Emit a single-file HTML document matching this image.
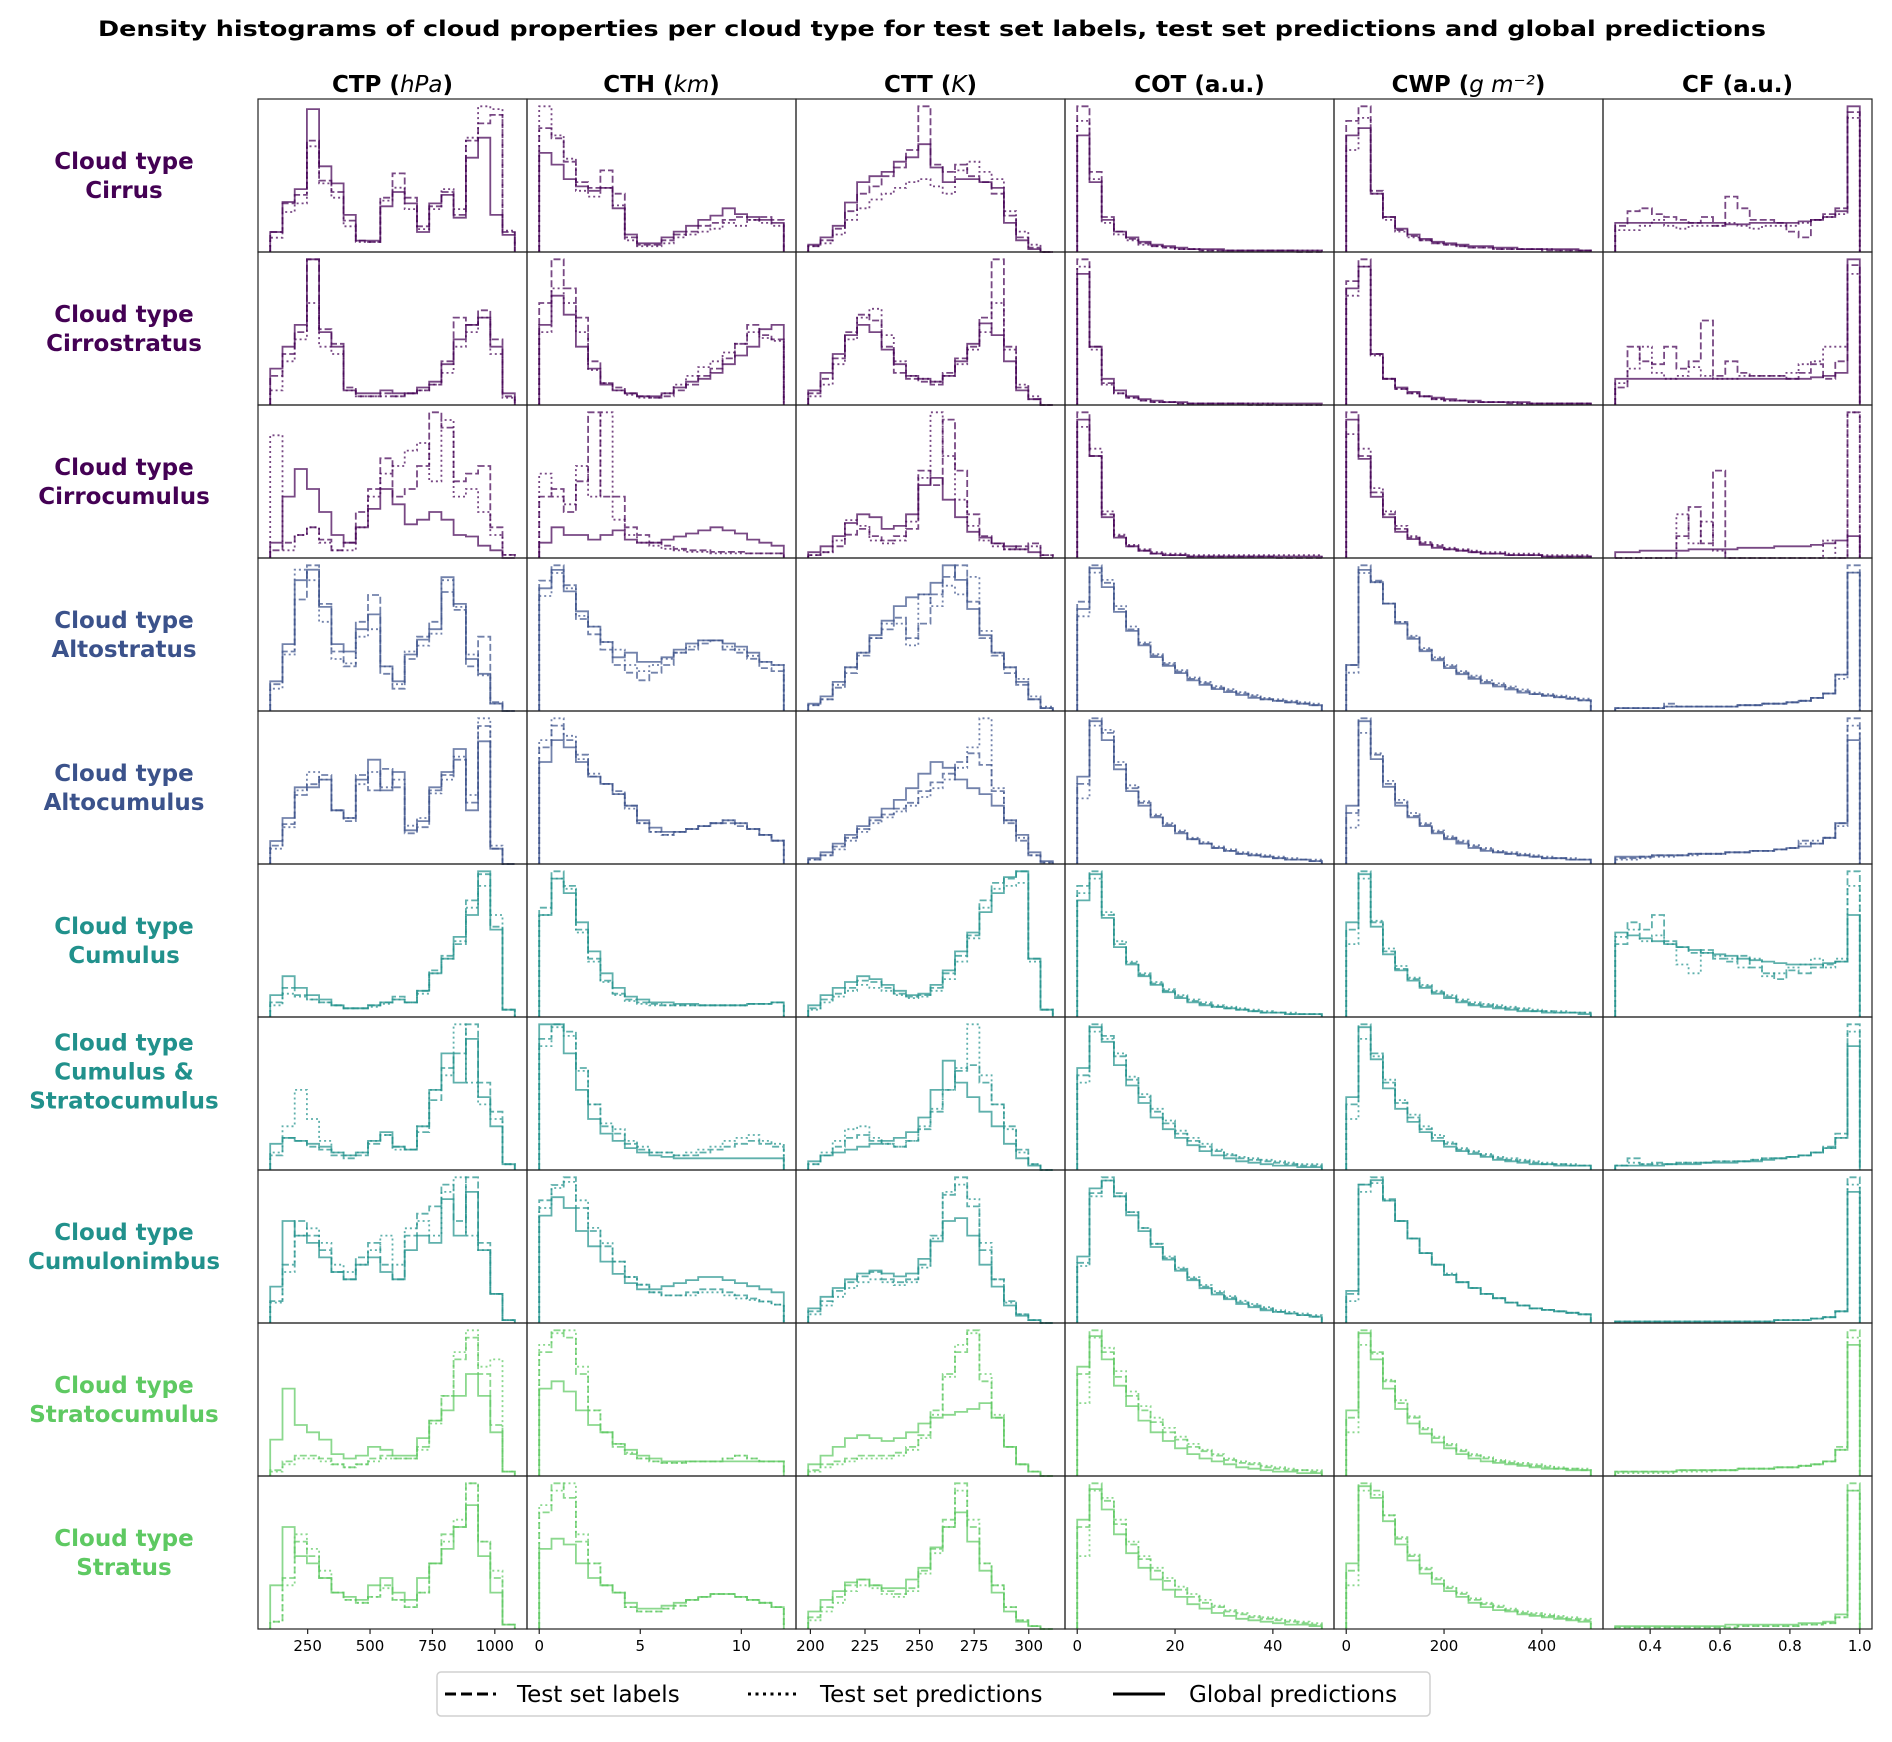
<!DOCTYPE html>
<html><head><meta charset="utf-8"><style>
html,body{margin:0;padding:0;background:#fff}
svg text{font-family:"DejaVu Sans","Liberation Sans",sans-serif}
</style></head><body>
<svg id="fig" width="1892" height="1737" viewBox="0 0 1892 1737" xmlns="http://www.w3.org/2000/svg">
<text x="932" y="36" text-anchor="middle" font-size="21" font-weight="bold" textLength="1668" lengthAdjust="spacingAndGlyphs">Density histograms of cloud properties per cloud type for test set labels, test set predictions and global predictions</text>
<g id="panels"></g>
<g>
<rect x="437" y="1672" width="993" height="44" rx="4" fill="#fff" stroke="#d0d0d0" stroke-width="1.5"/>
<line x1="445" y1="1694" x2="496" y2="1694" stroke="#000" stroke-width="3" stroke-dasharray="11,5"/>
<text x="517" y="1702" font-size="23">Test set labels</text>
<line x1="748" y1="1694" x2="799" y2="1694" stroke="#000" stroke-width="3" stroke-dasharray="3,4.5"/>
<text x="820" y="1702" font-size="23">Test set predictions</text>
<line x1="1113" y1="1694" x2="1165" y2="1694" stroke="#000" stroke-width="3"/>
<text x="1189" y="1702" font-size="23">Global predictions</text>
</g>
</svg>
<script>
const columns=["CTP","CTH","CTT","COT","CWP","CF"];
const colUnits=["hPa","km","K","a.u.","g m⁻²","a.u."];
const rowNames=[["Cloud type","Cirrus"],["Cloud type","Cirrostratus"],["Cloud type","Cirrocumulus"],["Cloud type","Altostratus"],["Cloud type","Altocumulus"],["Cloud type","Cumulus"],["Cloud type","Cumulus &","Stratocumulus"],["Cloud type","Cumulonimbus"],["Cloud type","Stratocumulus"],["Cloud type","Stratus"]];
const dataRange=[[100,1080],[0,12.1],[199,311],[0,50],[0,500],[0.3,1.0]];
const xTicks=[[250,500,750,1000],[0,5,10],[200,225,250,275,300],[0,20,40],[0,200,400],[0.4,0.6,0.8,1.0]];
const xTickLabels=[["250","500","750","1000"],["0","5","10"],["200","225","250","275","300"],["0","20","40"],["0","200","400"],["0.4","0.6","0.8","1.0"]];

const labels_ctp=[[14,34,40,78,50,42,22,8,7,38,55,38,18,32,42,26,78,90,96,14],[20,35,50,100,52,42,12,6,6,8,6,8,10,14,30,60,55,65,45,6],[5,10,15,20,12,5,10,30,45,65,40,45,60,95,85,50,55,60,20,2],[18,40,75,98,72,40,30,60,78,25,15,35,50,60,80,68,30,50,6,0],[12,26,45,52,58,35,28,58,48,62,50,20,24,48,58,68,40,90,10,0],[10,20,15,12,10,8,6,6,8,10,14,10,18,32,42,50,80,98,62,5],[10,22,20,16,14,10,8,10,18,24,16,14,26,48,70,80,100,60,40,4],[15,40,70,60,50,35,30,45,55,40,30,60,75,80,95,70,100,55,20,2],[4,10,14,14,12,8,6,8,12,14,12,12,20,38,55,80,95,70,35,3],[5,35,60,50,35,25,20,18,22,30,20,15,25,45,65,70,100,60,35,3]];
const testpred_ctp=[[10,28,34,74,48,38,18,7,7,36,45,30,16,30,44,30,80,102,100,15],[10,30,45,70,40,35,10,6,6,6,6,8,10,14,22,40,50,60,35,5],[80,5,15,20,10,5,5,20,40,55,60,70,75,50,90,40,45,30,15,2],[15,38,95,88,60,35,32,50,55,30,18,40,44,52,88,70,38,24,5,0],[10,24,48,60,55,35,30,52,60,50,55,25,30,46,55,70,45,95,12,0],[8,16,14,12,10,8,6,6,7,9,12,10,16,30,40,52,75,90,70,5],[12,30,55,35,20,12,10,12,20,24,14,14,30,55,65,100,60,45,35,4],[14,35,60,65,55,40,35,40,50,60,40,65,70,60,90,100,60,50,20,2],[3,8,12,12,10,8,6,8,10,12,12,12,18,36,55,85,100,75,80,3],[5,30,65,55,40,25,20,18,22,28,20,15,25,45,60,75,100,60,40,3]];
const global_ctp=[[14,35,44,100,60,48,26,8,8,32,42,34,14,34,40,24,66,80,26,12],[25,40,55,100,50,40,10,8,8,10,8,8,12,16,28,45,55,60,40,8],[10,40,58,45,30,15,10,20,32,45,35,22,25,30,25,15,14,8,5,0],[20,45,88,95,70,45,40,55,65,30,20,38,48,55,90,72,35,25,5,0],[15,30,50,50,55,35,30,55,68,48,60,22,28,50,60,75,35,80,10,0],[15,28,20,15,12,8,6,6,8,10,12,10,18,30,40,55,70,100,60,5],[18,22,20,18,16,12,10,12,20,26,16,14,30,55,80,60,90,50,30,4],[25,70,60,55,45,35,30,40,45,35,30,50,60,55,85,60,90,50,20,2],[25,60,35,30,25,15,12,14,20,18,14,14,26,38,45,55,70,55,30,3],[30,70,50,45,35,25,22,20,30,35,25,20,35,45,55,70,85,50,25,3]];

const labels_cth=[[85,78,62,48,44,56,40,10,5,5,8,12,14,18,20,22,24,22,24,22],[70,100,80,60,30,15,12,8,6,5,6,10,14,20,25,32,42,55,48,45],[40,45,30,50,95,40,40,20,15,10,8,6,5,5,4,4,4,3,3,3],[85,95,82,60,50,40,30,25,20,25,30,38,40,44,46,40,38,34,28,26],[80,95,85,75,60,55,50,40,28,22,20,22,24,26,28,28,26,24,20,16],[75,100,90,60,40,25,16,12,10,9,8,8,8,8,8,8,8,9,9,10],[90,100,95,70,45,30,25,18,14,12,12,10,10,12,14,16,18,20,18,16],[80,90,95,75,60,50,40,30,25,20,18,18,20,22,22,20,18,16,14,12],[85,100,95,70,45,30,20,15,12,10,9,9,10,10,10,12,14,12,10,10],[80,100,90,60,45,30,25,15,12,12,14,16,20,22,24,24,22,20,18,15]];
const testpred_cth=[[100,80,64,42,38,44,32,8,4,4,6,10,12,14,16,20,18,22,20,18],[50,80,70,50,24,15,10,7,5,5,8,14,20,26,30,36,42,50,46,44],[55,40,35,60,40,95,25,15,10,8,6,5,4,4,3,3,3,3,3,3],[75,90,80,62,55,45,40,30,26,30,34,38,42,46,46,42,40,36,32,30],[85,100,88,72,62,55,48,38,28,22,20,22,24,26,28,30,28,24,20,16],[70,95,88,58,38,24,15,11,9,8,8,8,8,8,8,8,8,9,9,10],[85,98,92,68,45,32,28,20,16,12,12,10,12,14,16,20,22,24,20,18],[75,88,92,80,62,52,40,30,25,20,18,18,18,20,20,18,16,15,14,12],[90,98,100,75,45,30,22,16,12,10,9,9,10,10,10,12,14,12,10,10],[85,95,100,65,45,30,25,15,12,12,14,16,20,22,24,24,22,20,18,15]];
const global_cth=[[68,60,50,45,42,44,30,12,6,6,10,14,18,22,25,30,26,24,22,20],[55,75,62,40,25,14,10,8,6,6,8,12,16,18,22,28,34,40,52,55],[10,20,15,15,12,15,18,12,10,10,12,14,16,18,20,18,16,12,10,8],[80,92,78,65,55,45,35,38,32,32,35,40,44,46,46,44,42,38,32,30],[70,85,80,70,60,55,48,40,30,25,22,22,24,26,28,30,28,24,20,16],[70,95,85,65,45,30,20,14,12,10,10,9,9,8,8,8,8,9,9,10],[100,100,80,55,35,25,20,15,12,10,9,8,8,8,8,8,8,8,8,8],[70,82,75,60,50,40,32,26,22,22,24,26,28,30,30,28,26,24,22,20],[60,65,58,45,35,30,22,18,14,12,10,10,10,10,10,10,10,10,10,10],[55,62,58,45,35,30,25,18,14,14,16,18,20,22,24,24,22,20,18,15]];

const labels_ctt=[[4,8,16,28,40,45,52,58,70,100,60,55,60,52,48,40,25,10,3,0],[8,18,32,50,62,58,40,22,18,16,14,22,32,40,60,100,40,12,4,0],[2,4,8,16,20,15,12,15,20,60,50,95,60,30,15,10,6,8,10,2],[4,8,16,26,38,50,56,64,50,60,80,92,100,75,50,38,26,18,8,2],[3,6,12,18,24,30,34,38,42,50,56,62,70,76,68,50,28,16,6,1],[6,12,16,20,25,24,20,16,14,15,20,30,42,56,80,92,95,100,40,5],[4,10,16,22,24,20,18,16,20,28,40,55,68,72,60,45,30,14,4,0],[8,15,22,28,32,35,30,28,30,40,60,88,100,80,50,30,15,6,2,0],[4,8,10,12,14,14,14,16,20,28,45,70,85,100,65,40,20,8,3,0],[8,15,22,30,34,30,26,24,28,40,55,75,100,70,45,30,15,6,2,0]];
const testpred_ctt=[[4,6,12,22,30,36,40,44,48,50,45,40,56,62,55,50,28,14,5,0],[6,14,28,45,60,66,48,30,20,18,16,20,28,38,50,70,38,14,6,0],[2,4,12,26,22,12,10,12,25,55,100,70,40,22,12,8,6,6,8,2],[4,8,18,30,40,50,60,60,45,80,72,86,80,92,55,40,30,22,10,3],[3,6,10,16,22,28,32,36,40,46,52,58,66,80,100,52,30,18,6,1],[5,10,14,18,22,20,18,15,13,14,18,26,38,54,75,88,90,92,38,5],[4,12,20,28,30,22,18,16,20,30,42,55,70,100,65,45,28,12,4,0],[6,12,18,24,28,30,28,26,28,38,58,90,95,85,55,30,14,6,2,0],[3,6,8,10,12,12,12,14,18,26,42,68,90,98,70,42,20,8,3,0],[6,12,18,26,30,28,24,22,26,38,52,70,95,75,45,30,15,6,2,0]];
const global_ctt=[[5,10,18,34,48,52,55,62,65,74,58,48,50,50,48,44,20,8,2,0],[10,22,35,48,55,50,38,28,20,18,16,20,30,42,56,48,30,10,4,0],[4,8,15,24,30,28,20,22,30,50,55,40,28,18,14,10,8,6,4,0],[5,10,20,30,40,52,62,72,78,80,88,100,90,70,52,40,30,20,8,2],[4,8,14,20,26,32,38,44,52,62,70,66,58,52,48,40,30,20,8,2],[8,15,20,24,28,26,22,18,15,16,22,32,45,58,72,85,96,100,40,5],[6,10,12,14,16,18,20,22,26,36,55,75,60,50,40,30,18,8,3,0],[10,18,24,30,34,36,34,32,34,44,56,70,72,60,40,25,12,5,2,0],[8,14,20,26,28,26,24,26,30,36,40,42,44,46,50,40,20,8,3,0],[12,20,26,32,34,30,28,28,34,42,56,70,80,60,40,25,12,5,2,0]];

const labels_cot=[[100,55,24,14,9,6,4,3,2,2,1,1,1,1,1,1,1,1,0,0],[100,40,15,8,5,3,2,2,1,1,1,1,1,1,0,0,0,0,0,0],[100,70,30,15,8,5,3,2,2,1,1,1,1,1,1,1,0,0,0,0],[75,100,88,70,56,46,38,32,27,22,19,16,14,12,10,8,7,6,5,4],[55,100,90,68,52,42,33,27,22,17,14,11,9,7,6,5,4,3,3,2],[90,100,70,50,37,29,23,18,14,11,9,7,6,5,4,3,3,2,2,2],[65,100,92,78,62,50,40,32,25,20,16,13,10,8,7,6,5,4,3,3],[38,82,92,82,70,60,50,41,34,28,23,19,16,13,11,9,7,6,5,4],[70,100,85,68,55,45,37,30,25,20,17,14,11,9,8,6,5,4,4,3],[70,100,88,72,58,48,40,33,27,22,18,15,12,10,8,7,6,5,4,3]];
const testpred_cot=[[90,50,20,12,8,5,4,3,2,2,1,1,1,1,1,1,1,1,1,1],[95,38,14,8,5,3,2,2,1,1,1,1,1,1,1,1,0,0,0,0],[90,75,32,16,9,6,4,3,3,2,2,2,2,2,2,2,2,2,2,2],[65,95,90,72,58,47,39,33,28,23,20,17,15,13,11,9,8,7,6,5],[45,95,92,70,54,43,34,28,23,18,15,12,10,8,7,6,5,4,3,3],[85,95,72,52,38,30,24,19,15,12,10,8,7,6,5,4,3,3,2,2],[60,95,90,80,64,52,42,34,27,22,18,14,11,9,8,7,6,5,4,4],[36,80,90,80,70,60,50,42,35,29,24,20,17,14,12,10,8,7,6,5],[50,95,88,72,58,48,40,33,27,22,18,15,12,10,9,7,6,5,4,4],[50,95,90,75,60,50,42,35,29,24,20,16,13,11,9,8,7,6,5,4]];
const global_cot=[[80,48,22,14,10,7,5,4,3,2,2,2,1,1,1,1,1,1,1,1],[90,40,18,10,6,4,3,2,2,1,1,1,1,1,1,1,1,1,1,1],[95,70,28,14,8,5,3,2,2,1,1,1,1,1,1,1,1,1,1,1],[70,98,85,68,55,45,37,31,26,21,18,15,13,11,9,8,7,6,5,4],[60,98,85,65,50,40,32,26,21,17,14,11,9,7,6,5,4,3,3,2],[80,98,68,48,36,28,22,17,13,10,8,7,6,5,4,3,3,2,2,2],[70,98,88,72,58,46,36,28,22,17,13,10,8,6,5,4,3,3,2,2],[42,85,90,80,68,58,48,40,33,27,22,18,15,12,10,8,7,6,5,4],[75,96,80,62,48,38,30,24,19,15,12,10,8,6,5,4,3,3,2,2],[75,96,82,65,52,42,34,27,22,17,14,11,9,7,6,5,4,3,3,2]];

const labels_cwp=[[90,100,42,24,15,11,8,6,5,4,3,3,2,2,2,2,1,1,1,1],[85,100,35,18,11,8,6,4,3,3,2,2,2,1,1,1,1,1,1,1],[100,70,45,30,20,14,10,8,6,5,4,3,3,2,2,2,1,1,1,1],[30,95,85,70,58,48,40,34,29,25,22,19,17,15,13,11,10,9,8,7],[35,100,75,55,42,33,27,22,18,15,12,10,8,7,6,5,4,4,3,3],[60,100,65,45,33,26,21,17,14,11,9,8,7,6,5,4,4,3,3,3],[45,100,80,60,46,36,28,22,18,14,12,10,8,7,6,5,4,4,3,3],[20,95,100,85,70,58,48,40,33,28,24,20,17,14,12,10,9,8,7,6],[40,100,85,65,50,40,32,26,21,17,14,12,10,9,8,7,6,5,5,4],[40,100,95,78,62,50,41,34,28,24,20,17,15,13,11,10,9,8,7,6]];
const testpred_cwp=[[70,92,40,22,14,10,8,6,5,4,3,3,2,2,2,2,2,1,1,1],[75,95,34,18,11,8,6,4,3,3,2,2,2,2,1,1,1,1,1,1],[85,75,48,32,22,15,11,9,7,6,5,4,4,3,3,3,2,2,2,2],[25,90,84,70,58,49,41,35,30,26,23,20,18,16,14,12,11,10,9,8],[25,90,76,57,44,35,28,23,19,16,13,11,9,8,7,6,5,4,4,3],[50,95,66,47,35,27,22,18,15,12,10,9,8,7,6,5,4,4,3,3],[35,90,78,62,48,38,30,24,19,15,13,11,9,8,7,6,5,4,4,3],[15,90,96,84,70,58,48,40,34,28,24,20,17,14,12,10,9,8,7,6],[30,90,84,66,52,41,33,27,22,18,15,13,11,10,9,8,7,6,5,5],[30,95,92,78,63,51,42,35,29,25,21,18,16,14,12,11,10,9,8,7]];
const global_cwp=[[80,85,40,24,16,12,9,7,6,5,4,4,3,3,2,2,2,2,2,1],[80,95,35,18,12,9,6,5,4,3,3,2,2,2,2,1,1,1,1,1],[95,68,42,28,18,13,9,7,6,5,4,3,3,2,2,2,1,1,1,1],[30,92,84,70,57,47,39,33,28,24,21,18,16,14,12,11,10,9,8,7],[40,98,72,53,40,32,26,21,17,14,11,9,8,7,6,5,4,4,3,3],[65,98,62,43,32,25,20,16,13,10,8,7,6,5,4,4,3,3,3,2],[50,98,76,56,42,33,26,20,16,13,11,9,7,6,5,4,4,3,3,3],[22,95,98,84,70,58,48,40,33,28,24,20,17,14,12,10,9,8,7,6],[45,98,80,60,46,36,29,23,19,15,12,10,9,8,7,6,5,5,4,4],[45,98,90,74,58,47,38,31,26,22,18,15,13,12,10,9,8,7,6,5]];

const labels_cf=[[18,28,30,26,24,22,20,24,18,38,30,22,22,20,14,10,22,26,30,96],[12,40,30,28,40,25,30,58,20,30,22,20,20,20,18,22,28,18,30,96],[0,0,0,0,0,15,35,10,60,0,0,0,0,0,0,0,0,0,0,100],[2,2,2,2,5,3,3,3,3,3,4,4,5,5,6,7,9,12,25,100],[4,4,5,6,6,6,7,7,7,8,8,9,9,10,11,16,14,18,28,100],[50,65,60,70,52,48,44,46,40,38,42,34,30,26,32,30,34,36,38,100],[3,8,4,5,4,5,5,5,6,6,6,7,8,8,9,10,12,16,25,100],[1,1,1,1,1,1,1,1,1,1,1,1,1,2,2,2,3,4,8,100],[3,3,3,3,3,4,4,4,4,4,5,5,5,6,6,7,8,10,20,100],[1,1,1,1,1,1,1,1,1,1,2,2,2,2,2,3,3,4,8,100]];
const testpred_cf=[[15,15,18,22,18,16,18,18,18,20,18,16,18,18,18,20,22,24,26,92],[15,25,40,22,18,20,26,20,18,18,20,20,20,20,22,28,30,40,40,90],[0,0,0,0,0,30,10,25,5,0,0,0,0,0,0,0,0,12,0,100],[2,2,2,2,3,3,3,3,3,3,4,4,5,5,6,7,9,12,22,95],[3,3,4,5,5,6,6,7,7,8,8,9,9,10,11,14,16,18,26,95],[55,60,52,56,50,36,30,44,42,40,34,40,28,30,34,36,40,34,40,90],[3,5,4,4,4,5,5,5,6,6,6,7,8,8,9,10,12,15,22,95],[1,1,1,1,1,1,1,1,1,1,1,1,1,2,2,2,3,4,8,95],[2,2,2,2,2,3,3,3,4,4,5,5,5,6,6,7,8,10,18,95],[1,1,1,1,1,1,1,1,1,1,2,2,2,2,2,3,3,4,8,95]];
const global_cf=[[20,20,20,20,20,20,20,20,20,19,19,20,20,20,20,21,22,24,28,100],[18,18,18,18,18,18,18,18,18,18,18,18,18,18,18,18,19,20,22,100],[4,4,5,5,5,5,6,6,6,6,7,7,7,8,8,8,9,10,12,15],[2,2,2,2,3,3,3,3,3,3,4,4,5,5,6,7,9,12,25,95],[5,5,5,6,6,6,7,7,7,8,8,9,9,10,11,12,14,18,28,85],[58,56,54,52,50,48,46,44,43,42,40,39,38,37,36,36,36,37,38,70],[3,3,3,3,4,4,4,5,5,5,6,6,7,8,9,10,12,15,22,85],[1,1,1,1,1,1,1,1,1,1,1,1,1,2,2,2,3,4,8,90],[3,3,3,3,3,4,4,4,4,4,5,5,5,6,6,7,8,10,18,90],[2,2,2,2,2,2,2,2,2,3,3,3,3,3,3,4,4,5,10,95]];

const labelsAll=[labels_ctp,labels_cth,labels_ctt,labels_cot,labels_cwp,labels_cf];
const predsAll=[testpred_ctp,testpred_cth,testpred_ctt,testpred_cot,testpred_cwp,testpred_cf];
const globalAll=[global_ctp,global_cth,global_ctt,global_cot,global_cwp,global_cf];

const NS="http://www.w3.org/2000/svg";
const PX0=258,PY0=99,PW=269,PH=153;
const rowColors=["#440154","#440154","#440154","#3b528b","#3b528b","#21918c","#21918c","#21918c","#5ec962","#5ec962"];
const root=document.getElementById("panels");
function mk(tag,attrs,parent){const e=document.createElementNS(NS,tag);for(const k in attrs)e.setAttribute(k,attrs[k]);(parent||root).appendChild(e);return e;}
function xScale(c,v){const d=dataRange[c];const m=(d[1]-d[0])*0.05;const lo=d[0]-m,hi=d[1]+m;return PX0+c*PW+(v-lo)/(hi-lo)*PW;}
function yScale(r,v,maxv){return PY0+(r+1)*PH-(v/(maxv*1.05))*PH;}

columns.forEach((name,c)=>{
  const t=mk("text",{x:PX0+c*PW+PW/2,y:92,"text-anchor":"middle","font-size":"23","font-weight":"bold"});
  
  
  const s1=document.createElementNS(NS,"tspan");s1.textContent=name+" (";t.appendChild(s1);
  const s2=document.createElementNS(NS,"tspan");s2.textContent=colUnits[c];
  if(c!==3&&c!==5){s2.setAttribute("font-style","italic");s2.setAttribute("font-weight","normal");}
  t.appendChild(s2);
  const s3=document.createElementNS(NS,"tspan");s3.textContent=")";t.appendChild(s3);
});

rowNames.forEach((lines,r)=>{
  const cy=PY0+r*PH+PH/2-(lines.length===3?22:0);
  const t=mk("text",{"text-anchor":"middle","font-size":"23","font-weight":"bold",fill:rowColors[r]});
  
  
  lines.forEach((ln,i)=>{
    const s=document.createElementNS(NS,"tspan");
    s.setAttribute("x",124);
    s.setAttribute("y",cy-(lines.length-1)*14.5+i*29+8);
    s.textContent=ln;t.appendChild(s);
  });
});

const styles=[{dash:"7,3",key:"labels"},{dash:"2,3",key:"test-predictions"},{dash:"",key:"global-predictions"}];
for(let r=0;r<10;r++){
  for(let c=0;c<6;c++){
    const g=mk("g",{});
    
    
    const series=[labelsAll[c][r],predsAll[c][r],globalAll[c][r]];
    const maxv=Math.max(...series.map(s=>Math.max(...s)));
    const d=dataRange[c];
    series.forEach((vals,si)=>{
      const n=vals.length,bw=(d[1]-d[0])/n;
      const base=yScale(r,0,maxv);
      let p="M"+xScale(c,d[0]).toFixed(1)+","+base.toFixed(1);
      vals.forEach((v,i)=>{
        const y=yScale(r,v,maxv).toFixed(1);
        p+=" V"+y+" H"+xScale(c,d[0]+(i+1)*bw).toFixed(1);
      });
      p+=" V"+base.toFixed(1);
      const attrs={d:p,fill:"none",stroke:rowColors[r],"stroke-opacity":"0.72","stroke-width":"1.8"};
      if(styles[si].dash)attrs["stroke-dasharray"]=styles[si].dash;
      const path=mk("path",attrs,g);
      
      
    });
    const fr=mk("rect",{x:PX0+c*PW,y:PY0+r*PH,width:PW,height:PH,fill:"none",stroke:"#222","stroke-width":"1.2"},g);
    
    
  }
}
xTicks.forEach((ticks,c)=>{
  ticks.forEach((v,i)=>{
    const x=xScale(c,v),y=PY0+10*PH;
    const tk=mk("line",{x1:x,x2:x,y1:y,y2:y+5,stroke:"#222","stroke-width":"1.2"});
    
    
    const tl=mk("text",{x:x,y:y+22,"text-anchor":"middle","font-size":"15"});
    tl.textContent=xTickLabels[c][i];
    
    
  });
});
</script>
</body></html>
